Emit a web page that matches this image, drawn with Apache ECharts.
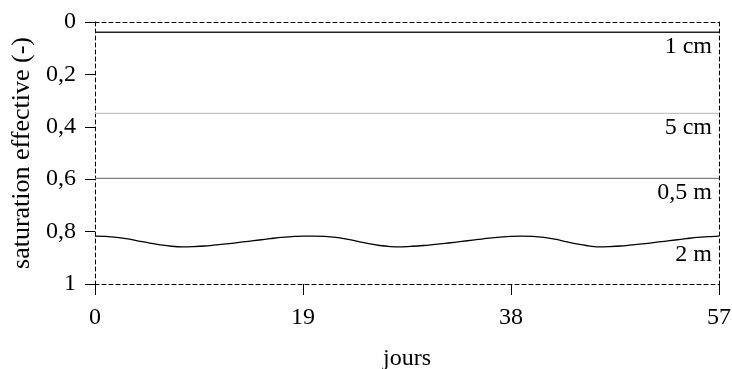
<!DOCTYPE html>
<html>
<head>
<meta charset="utf-8">
<script src="https://cdn.jsdelivr.net/npm/echarts@6/dist/echarts.min.js"></script>
<style>
  html, body { margin: 0; padding: 0; background: #fff; }
  #main { width: 732px; height: 369px; }
</style>
</head>
<body>
<div id="main"></div>
<script>
// jours 0..57
const days = [
  0, 1, 2, 3, 4, 5, 6, 7, 8, 9, 10, 11, 12, 13, 14, 15, 16, 17, 18, 19,
  20, 21, 22, 23, 24, 25, 26, 27, 28, 29, 30, 31, 32, 33, 34, 35, 36, 37, 38, 39,
  40, 41, 42, 43, 44, 45, 46, 47, 48, 49, 50, 51, 52, 53, 54, 55, 56, 57
];
// saturation effective at 2 m
const sat2m = [
  0.817, 0.818, 0.822, 0.828, 0.836, 0.844, 0.851, 0.856, 0.858, 0.857,
  0.855, 0.851, 0.847, 0.842, 0.837, 0.832, 0.827, 0.822, 0.819, 0.817,
  0.817, 0.818, 0.822, 0.829, 0.837, 0.846, 0.853, 0.857, 0.858, 0.856,
  0.853, 0.849, 0.845, 0.840, 0.835, 0.830, 0.825, 0.821, 0.818, 0.817,
  0.818, 0.822, 0.829, 0.838, 0.847, 0.854, 0.858, 0.857, 0.855, 0.851,
  0.847, 0.842, 0.837, 0.832, 0.827, 0.822, 0.819, 0.817
];
// the shallow depths stay flat over the whole period
const sat1cm = [0.039, 0.039];
const sat5cm = [0.349, 0.349];
const sat05m = [0.597, 0.597];
const flatDays = [0, 57];

const depthNames = ["1 cm", "5 cm", "0,5 m", "2 m"];
const xTicks = [0, 19, 38, 57];
const yTickLabels = { 0: "0", 0.2: "0,2", 0.4: "0,4", 0.6: "0,6", 0.8: "0,8", 1: "1" };

const font = "'Liberation Serif', 'Times New Roman', serif";
const dashed = { color: "#000", width: 1, type: [4, 3] };

function pairs(xs, ys) {
  return xs.map((x, i) => [x, ys[i]]);
}

function depthSeries(name, data, color, width, labelDy) {
  return {
    name: name,
    type: "line",
    data: data,
    showSymbol: false,
    smooth: name === "2 m" ? 0.3 : false,
    lineStyle: { color: color, width: width },
    silent: true,
    endLabel: {
      show: true,
      formatter: name,
      fontFamily: font,
      fontSize: 24,
      color: "#000",
      align: "right",
      verticalAlign: "top",
      offset: [-15, labelDy]
    }
  };
}

const chart = echarts.init(document.getElementById("main"));
chart.setOption({
  animation: false,
  backgroundColor: "#fff",
  grid: { left: 95, right: 13, top: 22, bottom: 85, outerBoundsMode: "none", containLabel: false },
  xAxis: [
    {
      type: "value",
      min: 0,
      max: 57,
      interval: 19,
      name: "jours",
      nameLocation: "middle",
      nameGap: 63,
      nameTextStyle: { fontFamily: font, fontSize: 24, color: "#000" },
      axisLine: { onZero: false, lineStyle: dashed },
      axisTick: { show: true, length: 11, lineStyle: { color: "#000", width: 1 } },
      axisLabel: {
        fontFamily: font, fontSize: 24, color: "#000", margin: 22,
        formatter: v => (xTicks.includes(v) ? String(v) : "")
      },
      splitLine: { show: false }
    },
    {
      type: "value",
      position: "top",
      min: 0,
      max: 57,
      axisLine: { show: true, onZero: false, lineStyle: dashed },
      axisTick: { show: false },
      axisLabel: { show: false },
      splitLine: { show: false }
    }
  ],
  yAxis: [
    {
      type: "value",
      inverse: true,
      min: 0,
      max: 1,
      interval: 0.2,
      name: "saturation effective (-)",
      nameLocation: "middle",
      nameGap: 60,
      nameTextStyle: { fontFamily: font, fontSize: 26, color: "#000" },
      axisLine: { show: true, onZero: false, lineStyle: dashed },
      axisTick: { show: true, length: 10, lineStyle: { color: "#000", width: 1 } },
      axisLabel: {
        fontFamily: font, fontSize: 24, color: "#000", margin: 19,
        formatter: v => yTickLabels[Math.round(v * 10) / 10] ?? ""
      },
      splitLine: { show: false }
    },
    {
      type: "value",
      position: "right",
      inverse: true,
      min: 0,
      max: 1,
      axisLine: { show: true, onZero: false, lineStyle: dashed },
      axisTick: { show: false },
      axisLabel: { show: false },
      splitLine: { show: false }
    }
  ],
  series: [
    depthSeries(depthNames[0], pairs(flatDays, sat1cm), "#222", 1.5, 2),
    depthSeries(depthNames[1], pairs(flatDays, sat5cm), "#c4c4c4", 1.2, 2),
    depthSeries(depthNames[2], pairs(flatDays, sat05m), "#808080", 1.2, 2),
    depthSeries(depthNames[3], pairs(days, sat2m), "#000", 1.3, 7)
  ]
});
</script>
</body>
</html>
